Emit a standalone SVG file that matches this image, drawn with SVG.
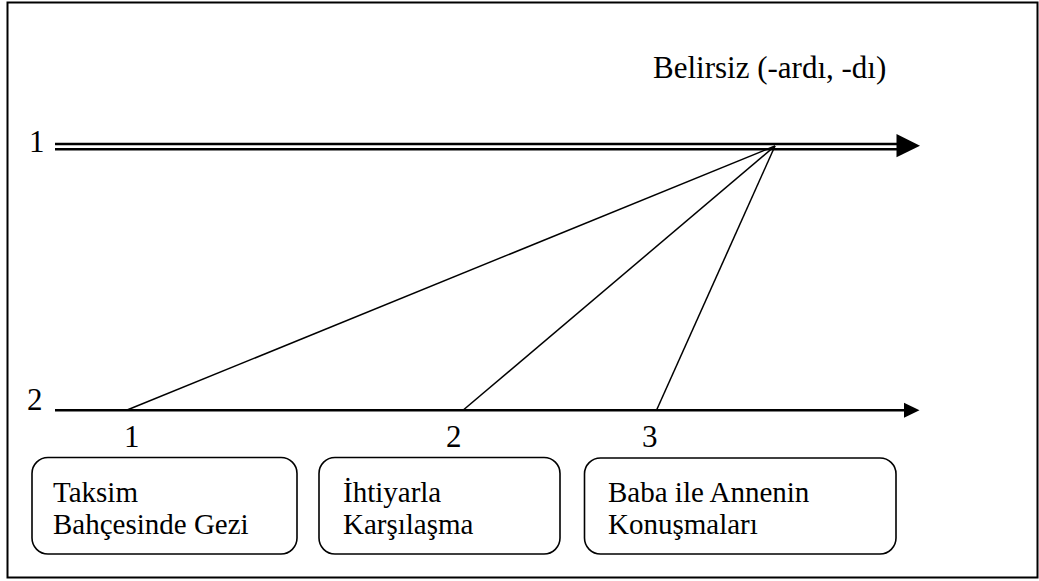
<svg xmlns="http://www.w3.org/2000/svg" width="1039" height="581" viewBox="0 0 1039 581">
  <style>
    .txt { font-family: "Liberation Serif", "Times New Roman", serif; font-size: 31px; fill: #000; }
    .lbl { font-family: "Liberation Serif", "Times New Roman", serif; font-size: 29px; fill: #000; }
    .frame { fill: #fff; stroke: #000; stroke-width: 2; }
    .box { fill: none; stroke: #000; stroke-width: 1.6; }
    .axis { stroke: #000; stroke-width: 2.5; fill: none; }
    .link { stroke: #000; stroke-width: 1.5; fill: none; }
    .head { fill: #000; stroke: none; }
  </style>

  <!-- outer frame -->
  <rect class="frame" x="7.5" y="2.5" width="1030" height="575"/>

  <!-- timeline 1 (double line) with label -->
  <g id="timeline1">
    <text class="txt" x="29" y="152">1</text>
    <line class="axis" x1="55" y1="144" x2="898" y2="144"/>
    <line class="axis" x1="55" y1="149.3" x2="898" y2="149.3"/>
    <polygon class="head" points="896.5,134 920,145.7 896.5,157.3"/>
    <text class="txt" x="653" y="78">Belirsiz (-ardı, -dı)</text>
  </g>

  <!-- timeline 2 (single line) with label -->
  <g id="timeline2">
    <text class="txt" x="27" y="410">2</text>
    <line class="axis" x1="55" y1="410.3" x2="906" y2="410.3"/>
    <polygon class="head" points="904,402.7 919.5,410.3 904,417.8"/>
  </g>

  <!-- connectors from the shared point on line 1 down to line 2 -->
  <g id="connectors">
    <line class="link" x1="775" y1="146" x2="126.5" y2="410.3"/>
    <line class="link" x1="775" y1="146" x2="463" y2="410.3"/>
    <line class="link" x1="775" y1="146" x2="656.5" y2="410.3"/>
  </g>

  <!-- point numbers under line 2 -->
  <g id="marks">
    <text class="txt" x="124" y="447">1</text>
    <text class="txt" x="446" y="447">2</text>
    <text class="txt" x="642" y="447">3</text>
  </g>

  <!-- event boxes -->
  <g id="event1">
    <rect class="box" x="32" y="457.5" width="265" height="96.5" rx="16" ry="16"/>
    <text class="lbl" x="53" y="501.5">Taksim</text>
    <text class="lbl" x="53" y="534">Bahçesinde Gezi</text>
  </g>
  <g id="event2">
    <rect class="box" x="319" y="457.5" width="241" height="96.5" rx="16" ry="16"/>
    <text class="lbl" x="343" y="501.5">İhtiyarla</text>
    <text class="lbl" x="343" y="534">Karşılaşma</text>
  </g>
  <g id="event3">
    <rect class="box" x="584.5" y="458" width="311.5" height="96" rx="16" ry="16"/>
    <text class="lbl" x="608" y="501.5">Baba ile Annenin</text>
    <text class="lbl" x="608" y="534">Konuşmaları</text>
  </g>
</svg>
